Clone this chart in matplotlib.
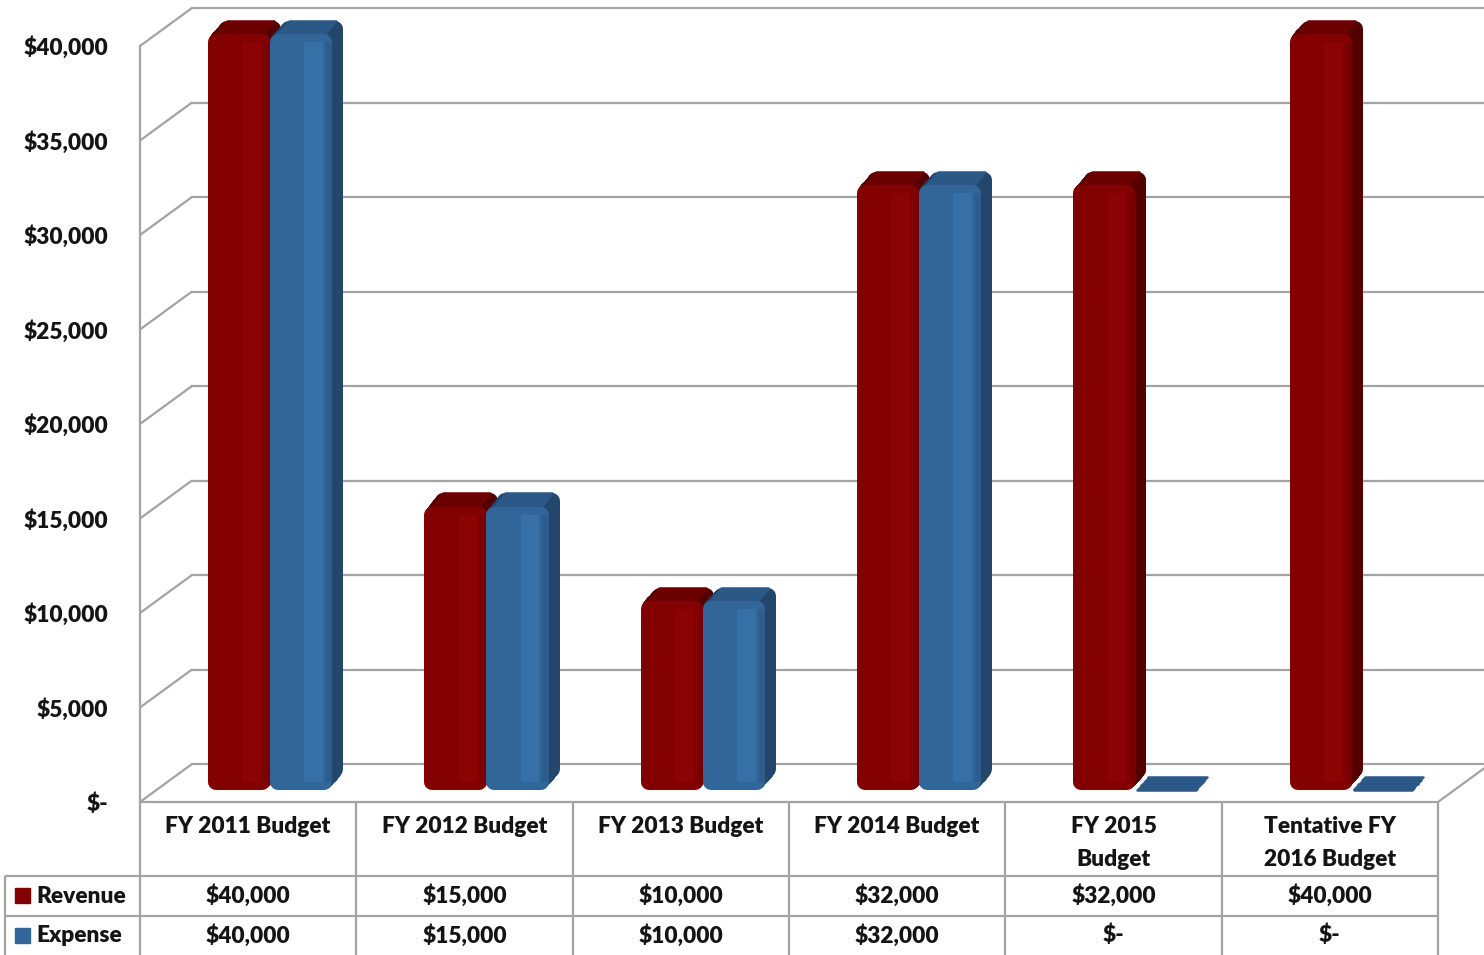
import matplotlib
matplotlib.use("Agg")
import matplotlib.pyplot as plt
from matplotlib.transforms import ScaledTranslation
from matplotlib.patches import Rectangle
import numpy as np

# ---------------- data ----------------
categories = ["FY 2011 Budget", "FY 2012 Budget", "FY 2013 Budget",
              "FY 2014 Budget", "FY 2015\nBudget", "Tentative FY\n2016 Budget"]
series_names = ["Revenue", "Expense"]
revenue = [40000, 15000, 10000, 32000, 32000, 40000]
expense = [40000, 15000, 10000, 32000, 0, 0]
y_ticks = [0, 5000, 10000, 15000, 20000, 25000, 30000, 35000, 40000]
y_max = 40000


def money(v):
    return "$-" if v == 0 else f"${v:,.0f}"


# ---------------- style ----------------
plt.rcParams["font.family"] = ["Lato", "DejaVu Sans"]
plt.rcParams["font.weight"] = "heavy"
FS = 16.3
FW = "heavy"
TXT = "#141414"
GRID = "#a3a3a3"
LW = 1.6
colors = {
    "Revenue": dict(front="#830000", hi="#8c0303", dark="#770000",
                    top="#6a0000", side="#540000"),
    "Expense": dict(front="#326698", hi="#3770a7", dark="#2d5d8c",
                    top="#2b5886", side="#22466c"),
}

W, H = 1484, 955
fig = plt.figure(figsize=(W / 100, H / 100), dpi=100)
fig.patch.set_facecolor("white")


def px_axes(left, top, width, height):
    return fig.add_axes([left / W, 1 - (top + height) / H, width / W, height / H])


# layout (pixels)
FX0, FY0 = 140, 802        # front-left corner of floor
DX, DY = 52, 38            # depth of the 3D box
SCALE = 756                # pixels for y_max
X_END = 1438               # right end of table / floor front
BAR_LEFT = 162             # bar plane
BAR_FLOOR = 790

# frame axes in pixel coordinates (box, table)
frame = px_axes(0, 0, W, H)
frame.set_xlim(0, W)
frame.set_ylim(H, 0)
frame.axis("off")

# back wall with gridlines
back = px_axes(FX0 + DX, FY0 - DY - SCALE, W - (FX0 + DX), SCALE)
back.set_ylim(0, y_max)
back.set_xlim(0, 1)
back.set_yticks(y_ticks)
back.set_xticks([])
back.tick_params(left=False, labelleft=False)
back.grid(axis="y", color=GRID, lw=LW)
for s in back.spines.values():
    s.set_visible(False)
back.patch.set_visible(False)
for gl in back.get_ygridlines():
    gl.set_clip_on(False)

# front axis (tick labels, left edge, floor front edge)
front = px_axes(FX0, FY0 - SCALE, X_END - FX0, SCALE)
front.set_ylim(0, y_max)
front.set_xlim(0, 1)
front.set_yticks(y_ticks)
front.set_yticklabels([money(v) for v in y_ticks], fontsize=FS, fontweight=FW,
                      color=TXT)
front.set_xticks([])
front.tick_params(axis="y", length=0, pad=23)
for side in ("top", "right"):
    front.spines[side].set_visible(False)
for side in ("left", "bottom"):
    front.spines[side].set_color(GRID)
    front.spines[side].set_linewidth(LW)
front.patch.set_visible(False)

# left side-wall diagonals and floor right edge (from axes transforms)
fig.canvas.draw()
inv = frame.transData.inverted()
for v in y_ticks:
    p0 = inv.transform(front.transData.transform((0, v)))
    p1 = inv.transform(back.transData.transform((0, v)))
    frame.plot([p0[0], p1[0]], [p0[1], p1[1]], color=GRID, lw=LW,
               solid_capstyle="butt")
p0 = inv.transform(front.transData.transform((1, 0)))
frame.plot([p0[0], p0[0] + DX], [p0[1], p0[1] - DY], color=GRID, lw=LW)

# ---------------- bars ----------------
bars = px_axes(BAR_LEFT, BAR_FLOOR - SCALE, (X_END - FX0), SCALE)
bars.set_autoscale_on(False)
bars.set_xlim(-0.5, len(categories) - 0.5)
bars.set_ylim(0, y_max)
bars.axis("off")
bars.patch.set_visible(False)

# data units per pixel, for rounded corners
x_per_px = len(categories) / (X_END - FX0)
y_per_px = y_max / SCALE
R_PX = 8
R_X = R_PX * x_per_px
R_Y = R_PX * y_per_px
w = 0.287


def round_bar(xs, vals, color, transform=None):
    """Bars with rounded corners: a shrunken bar with a thick round-joined edge."""
    m = vals > 0
    kw = {} if transform is None else {"transform": transform}
    bars.bar(xs[m] + R_X, vals[m] - 2 * R_Y, bottom=R_Y, width=w - 2 * R_X,
             align="edge", color=color, edgecolor=color,
             linewidth=2 * R_PX * 0.72, joinstyle="round", clip_on=False, **kw)


idx = np.arange(len(categories))
depth_dx, depth_dy = 11 / 100, 13 / 100   # inches
N = 14
for name, vals, xs in (("Revenue", revenue, idx - w), ("Expense", expense, idx)):
    c = colors[name]
    vals = np.array(vals, dtype=float)
    xs = np.asarray(xs, dtype=float)
    # side extrusion
    for k in range(N, 0, -1):
        t = bars.transData + ScaledTranslation(depth_dx * k / N, depth_dy * k / N,
                                               fig.dpi_scale_trans)
        round_bar(xs, vals, c["side"], t)
    # top face (full width for empty bars, inset for rounded ones)
    inset = np.where(vals > 0, 0.12 * w, 0.03 * w)
    for k in range(N, -1, -1):
        t = bars.transData + ScaledTranslation(depth_dx * k / N, depth_dy * k / N,
                                               fig.dpi_scale_trans)
        bars.bar(xs + inset, np.zeros_like(vals), bottom=vals, width=w - 2 * inset,
                 align="edge", color=c["top"], edgecolor=c["top"], linewidth=1.8,
                 joinstyle="round", capstyle="round",
                 transform=t, clip_on=False)
    # front face with shading
    round_bar(xs, vals, c["front"])
    inner = np.clip(vals - 2 * R_Y, 0, None)
    bars.bar(xs + w * 0.55, inner, bottom=R_Y, width=w * 0.3, align="edge",
             color=c["hi"], linewidth=0, clip_on=False)
    bars.bar(xs + w * 0.9, inner, bottom=R_Y, width=w * 0.1, align="edge",
             color=c["dark"], linewidth=0, clip_on=False)

# ---------------- data table ----------------
col_edges = np.linspace(FX0, X_END, len(categories) + 1)
col_mid = (col_edges[:-1] + col_edges[1:]) / 2
ROW_TOP, ROW1, ROW2, ROW_BOT = FY0, 876, 916, 955
KEY_LEFT = 5
tl = dict(color=GRID, lw=LW, solid_capstyle="butt")
for x in col_edges:
    frame.plot([x, x], [ROW_TOP, ROW_BOT], **tl)
frame.plot([KEY_LEFT, KEY_LEFT], [ROW1, ROW_BOT], **tl)
frame.plot([KEY_LEFT, X_END], [ROW1, ROW1], **tl)
frame.plot([KEY_LEFT, X_END], [ROW2, ROW2], **tl)

for x, lab in zip(col_mid, categories):
    frame.text(x, 816, lab, ha="center", va="top", fontsize=FS,
               fontweight=FW, linespacing=1.7, color=TXT)

for row_y0, row_y1, name, vals in ((ROW1, ROW2, "Revenue", revenue),
                                   (ROW2, ROW_BOT, "Expense", expense)):
    ym = (row_y0 + row_y1) / 2
    frame.add_patch(Rectangle((15, ym - 8), 15, 15, color=colors[name]["front"]))
    frame.text(36, ym, name, ha="left", va="center", fontsize=FS,
               fontweight=FW, color=TXT)
    for x, v in zip(col_mid, vals):
        frame.text(x, ym, money(v), ha="center", va="center", fontsize=FS,
                   fontweight=FW, color=TXT)

fig.savefig("out.png", dpi=100, facecolor="white")
